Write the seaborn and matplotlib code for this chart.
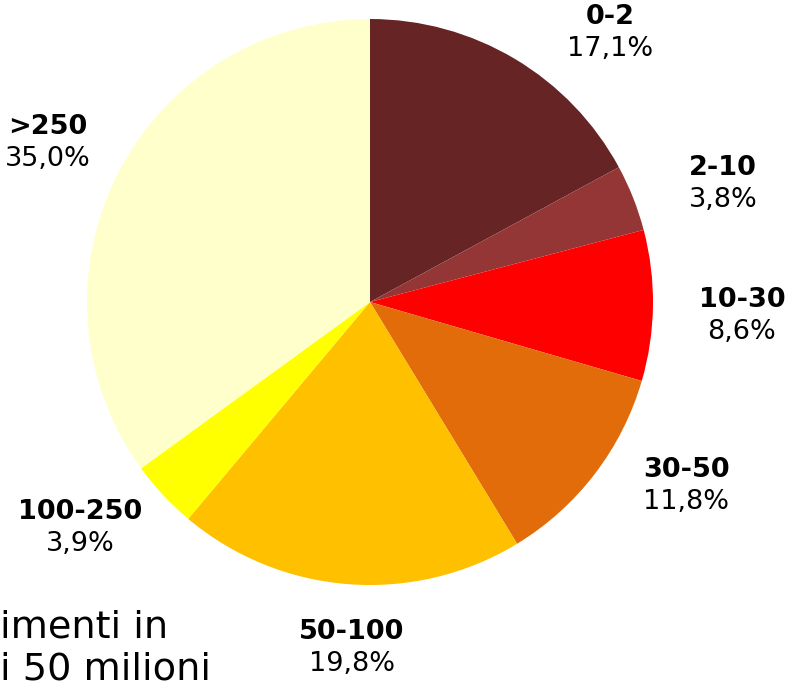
import matplotlib
matplotlib.use("Agg")
import matplotlib.pyplot as plt
import seaborn as sns

# shares by class (millions), clockwise from 12 o'clock
classes = ["0-2", "2-10", "10-30", "30-50", "50-100", "100-250", ">250"]
shares = [17.1, 3.8, 8.6, 11.8, 19.8, 3.9, 35.0]
pct_labels = ["17,1%", "3,8%", "8,6%", "11,8%", "19,8%", "3,9%", "35,0%"]
colors = ["#662424", "#943636", "#FF0000", "#E36C0A", "#FFC000", "#FFFF00", "#FFFFCC"]

# label anchor points (pie radius units) for name / percentage lines
label_pos = [(0.848, 1.007), (1.247, 0.473), (1.314, 0.007), (1.117, -0.594),
             (-0.064, -1.166), (-1.025, -0.742), (-1.138, 0.618)]

sns.set_theme(style="white")
plt.rcParams["font.family"] = ["DejaVu Sans"]

W, H = 789, 685
fig = plt.figure(figsize=(W / 100, H / 100), dpi=100)
cx, cy, r = 370, 302, 283
ax = fig.add_axes([(cx - r) / W, (H - cy - r) / H, 2 * r / W, 2 * r / H])

ax.pie(shares, colors=sns.color_palette(colors), startangle=90, counterclock=False,
       radius=1.0, wedgeprops=dict(edgecolor="none", linewidth=0))
ax.set_xlim(-1, 1)
ax.set_ylim(-1, 1)
ax.set_aspect("equal")
ax.axis("off")

for name, pct, (x, y) in zip(classes, pct_labels, label_pos):
    ax.text(x, y, name, ha="center", va="center", fontsize=19.5,
            fontweight="bold", color="black")
    ax.text(x, y - 0.113, pct, ha="center", va="center", fontsize=19.5,
            color="black")

# caption at bottom-left (cut by the left edge in the original)
fig.text(0.0, 1 - 637 / H, "imenti in", ha="left", va="baseline",
         fontsize=27.5, color="black")
fig.text(0.0, 1 - 680 / H, "i 50 milioni", ha="left", va="baseline",
         fontsize=27.5, color="black")

fig.savefig("out.png", dpi=100, facecolor="white")
